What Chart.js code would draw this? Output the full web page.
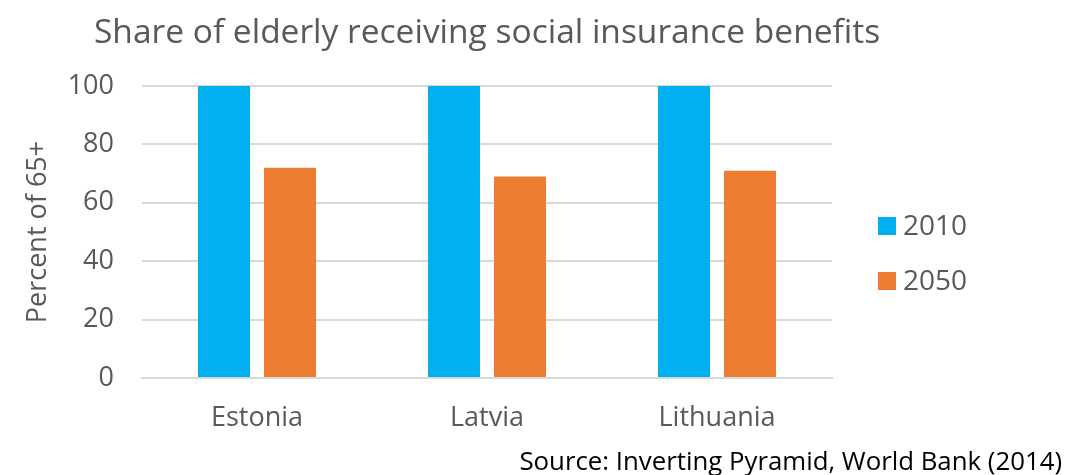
<!DOCTYPE html>
<html><head><meta charset="utf-8">
<script src="https://cdn.jsdelivr.net/npm/chart.js@4/dist/chart.umd.min.js"></script>
<style>html,body{margin:0;padding:0;background:#fff;}#wrap{width:1092px;height:475px;}</style>
</head><body><div id="wrap"><canvas id="c" width="1092" height="475"></canvas></div>
<script>
const categories = ["Estonia", "Latvia", "Lithuania"];
const series2010 = [100, 100, 100];
const series2050 = [72, 69, 71];
const seriesLabels = ["2010", "2050"];
const yTicks = [0, 20, 40, 60, 80, 100];
const chartTitle = "Share of elderly receiving social insurance benefits";
const yAxisTitle = "Percent of 65+";
const sourceNote = "Source: Inverting Pyramid, World Bank (2014)";
const FONT = "'Open Sans', sans-serif";

const overlay = {
  id: 'overlay',
  afterDraw(chart) {
    const ctx = chart.ctx;
    ctx.save();
    ctx.fillStyle = '#595959';
    ctx.font = "33.5px " + FONT;
    ctx.textAlign = 'left';
    ctx.textBaseline = 'alphabetic';
    ctx.fillText(chartTitle, 94, 43);
    // legend
    ctx.font = "28px " + FONT;
    chart.data.datasets.forEach((ds, i) => {
      const y = 226 + i * 55;
      ctx.fillStyle = ds.backgroundColor;
      ctx.fillRect(878, y - 9, 18, 18);
      ctx.fillStyle = '#595959';
      ctx.textBaseline = 'middle';
      ctx.fillText(ds.label, 903, y + 1);
    });
    ctx.fillStyle = '#000000';
    ctx.font = "25.8px " + FONT;
    ctx.textAlign = 'right';
    ctx.textBaseline = 'alphabetic';
    ctx.fillText(sourceNote, 1062, 470);
    ctx.restore();
  }
};

new Chart(document.getElementById('c'), {
  type: 'bar',
  data: {
    labels: categories,
    datasets: [
      { label: seriesLabels[0], data: series2010, backgroundColor: '#00B0F0', categoryPercentage: 0.574, barPercentage: 0.788 },
      { label: seriesLabels[1], data: series2050, backgroundColor: '#ED7D31', categoryPercentage: 0.574, barPercentage: 0.788 }
    ]
  },
  options: {
    responsive: false,
    animation: false,
    devicePixelRatio: 1,
    layout: { padding: { top: 86, right: 260, bottom: 0, left: 0 } },
    plugins: { legend: { display: false }, title: { display: false }, tooltip: { enabled: false } },
    scales: {
      x: {
        grid: { display: false, drawTicks: false },
        border: { display: true, color: '#d9d9d9', width: 2 },
        ticks: { color: '#595959', font: { family: FONT, size: 27 }, padding: 24 },
        afterFit(s) { s.height = 97; }
      },
      y: {
        min: 0, max: 100,
        afterBuildTicks(s) { s.ticks = yTicks.map(v => ({ value: v })); },
        grid: { color: '#d9d9d9', lineWidth: 2, drawTicks: false },
        border: { display: false },
        ticks: { color: '#595959', font: { family: FONT, size: 27 }, padding: 28 },
        title: { display: true, text: yAxisTitle, color: '#595959', font: { family: FONT, size: 27 }, padding: { top: 22, bottom: 0 } },
        afterFit(s) { s.width = 142; }
      }
    }
  },
  plugins: [overlay]
});
</script>
</body></html>
